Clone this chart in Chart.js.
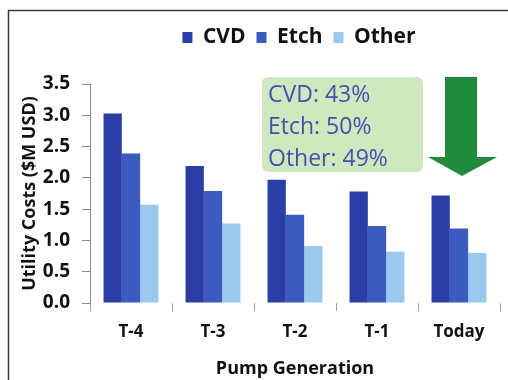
<!DOCTYPE html>
<html>
<head>
<meta charset="utf-8">
<script src="https://cdn.jsdelivr.net/npm/chart.js@4"></script>
<style>
  html, body { margin: 0; padding: 0; background: #ffffff; }
  #wrap { width: 508px; height: 380px; position: relative; }
</style>
</head>
<body>
<div id="wrap"><canvas id="chart" width="508" height="380"></canvas></div>
<script>
// Pump generations on the x axis
const categories = ['T-4', 'T-3', 'T-2', 'T-1', 'Today'];
// Utility costs per generation, $M USD
const cvd   = [3.03, 2.19, 1.97, 1.78, 1.72];
const etch  = [2.39, 1.79, 1.41, 1.23, 1.19];
const other = [1.57, 1.27, 0.91, 0.82, 0.80];
const seriesNames = ['CVD', 'Etch', 'Other'];
const yTicks = [0, 0.5, 1.0, 1.5, 2.0, 2.5, 3.0, 3.5];

const FONT = '"Open Sans", "Liberation Sans", sans-serif';
const colors = ['#2a3ea6', '#3b5bc1', '#9bc9ee'];

// Reduction from the oldest generation to today, per series
function reduction(arr) {
  return Math.round((1 - arr[arr.length - 1] / arr[0]) * 100);
}

// Frame, legend placement, callout box and down arrow
const decor = {
  id: 'decor',
  afterLayout(chart) {
    // keep the legend near the top and centred over the plot area
    const lg = chart.legend;
    if (lg) {
      const dy = lg.top - 16;
      lg.top -= dy;
      lg.bottom -= dy;
      lg.left += 88;
    }
  },
  beforeDraw(chart) {
    const ctx = chart.ctx;
    ctx.save();
    ctx.fillStyle = '#ffffff';
    ctx.fillRect(0, 0, chart.width, chart.height);
    ctx.strokeStyle = '#3a3a3a';
    ctx.lineWidth = 1.5;
    ctx.beginPath();
    ctx.moveTo(8.5, chart.height);
    ctx.lineTo(8.5, 10.5);
    ctx.lineTo(chart.width, 10.5);
    ctx.stroke();
    ctx.restore();
  },
  afterDatasetsDraw(chart) {
    const ctx = chart.ctx;
    ctx.save();
    // callout box
    const bx = 262, by = 77, bw = 161, bh = 95, r = 6;
    ctx.fillStyle = 'rgba(200, 228, 178, 0.85)';
    ctx.beginPath();
    ctx.roundRect(bx, by, bw, bh, r);
    ctx.fill();
    ctx.fillStyle = '#4350b0';
    ctx.font = '23px ' + FONT;
    ctx.textBaseline = 'middle';
    ctx.textAlign = 'left';
    const lines = [
      seriesNames[0] + ': ' + reduction(cvd) + '%',
      seriesNames[1] + ': ' + reduction(etch) + '%',
      seriesNames[2] + ': ' + reduction(other) + '%'
    ];
    lines.forEach((t, i) => ctx.fillText(t, 268, 95 + i * 32));

    // green down arrow
    ctx.fillStyle = '#1f8b3b';
    ctx.beginPath();
    ctx.moveTo(445, 77);
    ctx.lineTo(477, 77);
    ctx.lineTo(477, 157);
    ctx.lineTo(497, 157);
    ctx.lineTo(462, 176);
    ctx.lineTo(428, 157);
    ctx.lineTo(445, 157);
    ctx.closePath();
    ctx.fill();
    ctx.restore();
  }
};

const datasets = [cvd, etch, other].map((d, i) => ({
  label: seriesNames[i],
  data: d,
  backgroundColor: colors[i],
  borderWidth: 0,
  barPercentage: 1.0,
  categoryPercentage: 0.67
}));

new Chart(document.getElementById('chart'), {
  type: 'bar',
  data: { labels: categories, datasets },
  plugins: [decor],
  options: {
    responsive: false,
    animation: false,
    devicePixelRatio: 1,
    layout: { padding: { left: 10, right: 8, top: 42, bottom: 0 } },
    plugins: {
      legend: {
        position: 'top',
        labels: {
          boxWidth: 10,
          boxHeight: 11,
          padding: 11,
          color: '#111111',
          font: { family: FONT, size: 21, weight: 'bold' }
        }
      },
      tooltip: { enabled: false }
    },
    scales: {
      x: {
        grid: {
          offset: true,
          drawOnChartArea: false,
          drawTicks: true,
          tickLength: 8,
          color: '#9a9a9a'
        },
        border: { display: false },
        ticks: {
          color: '#111111',
          padding: 11,
          font: { family: FONT, size: 17, weight: 'bold' }
        },
        title: {
          display: true,
          text: 'Pump Generation',
          color: '#111111',
          padding: { top: 0, bottom: 0 },
          font: { family: FONT, size: 18, weight: 'bold' }
        },
        afterFit(scale) { scale.height = 77; }
      },
      y: {
        min: 0,
        max: 3.5,
        afterBuildTicks(scale) { scale.ticks = yTicks.map(v => ({ value: v })); },
        grid: {
          drawOnChartArea: false,
          drawTicks: true,
          tickLength: 8,
          color: '#8a8a8a'
        },
        border: { display: true, color: '#8a8a8a', width: 1 },
        ticks: {
          color: '#111111',
          padding: 12,
          font: { family: FONT, size: 19, weight: 'bold' },
          callback: v => Number(v).toFixed(1)
        },
        title: {
          display: true,
          text: 'Utility Costs ($M USD)',
          color: '#111111',
          padding: { top: 9, bottom: 0 },
          font: { family: FONT, size: 18, weight: 'bold' }
        },
        afterFit(scale) { scale.width = 80; }
      }
    }
  }
});
</script>
</body>
</html>
